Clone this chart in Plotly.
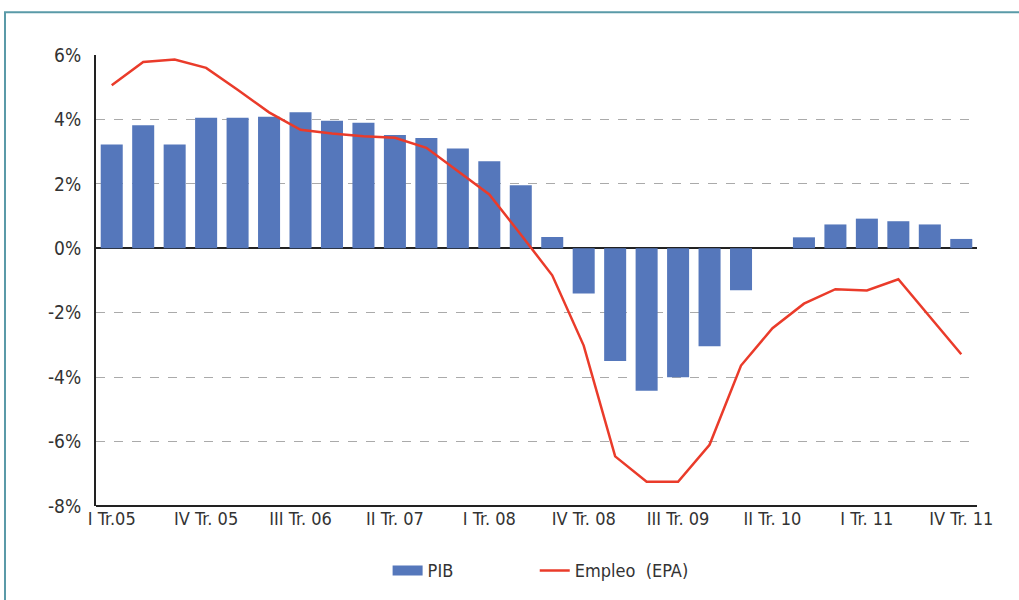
import plotly.graph_objects as go

quarters = ["I Tr.05", "II Tr.05", "III Tr.05", "IV Tr. 05",
            "I Tr. 06", "II Tr. 06", "III Tr. 06", "IV Tr. 06",
            "I Tr. 07", "II Tr. 07", "III Tr. 07", "IV Tr. 07",
            "I Tr. 08", "II Tr. 08", "III Tr. 08", "IV Tr. 08",
            "I Tr. 09", "II Tr. 09", "III Tr. 09", "IV Tr. 09",
            "I Tr. 10", "II Tr. 10", "III Tr. 10", "IV Tr. 10",
            "I Tr. 11", "II Tr. 11", "III Tr. 11", "IV Tr. 11"]

pib = [3.22, 3.82, 3.22, 4.05, 4.05, 4.08, 4.22, 3.96, 3.9, 3.52, 3.42, 3.1,
       2.7, 1.96, 0.35, -1.4, -3.5, -4.42, -4.0, -3.04, -1.3, 0.0, 0.34, 0.74,
       0.92, 0.84, 0.74, 0.29]

empleo = [5.06, 5.78, 5.86, 5.6, 4.92, 4.22, 3.68, 3.56, 3.48, 3.43, 3.12, 2.39,
          1.67, 0.43, -0.84, -3.02, -6.46, -7.25, -7.25, -6.1, -3.64, -2.48, -1.72,
          -1.27, -1.31, -0.96, -2.12, -3.29]

tick_idx = list(range(0, 28, 3))
tick_text = [quarters[i] for i in tick_idx]
y_ticks = [6, 4, 2, 0, -2, -4, -6, -8]
y_text = [f"{v}%" for v in y_ticks]

FONT = "DejaVu Sans Condensed, Roboto, sans-serif"
BLUE = "#5577bb"
RED = "#ea3b2a"

x = list(range(len(quarters)))

fig = go.Figure()
fig.add_trace(go.Bar(x=x, y=pib, name="PIB", showlegend=False,
                     marker=dict(color=BLUE, line=dict(width=0))))
# legend swatch for the bars (wide rectangle like the original)
fig.add_trace(go.Scatter(x=[None], y=[None], name="PIB", mode="lines",
                         line=dict(color=BLUE, width=12), legend="legend"))
fig.add_trace(go.Scatter(x=x, y=empleo, name="Empleo  (EPA)", mode="lines",
                         line=dict(color=RED, width=2.5), legend="legend2"))

legend_common = dict(orientation="h", xanchor="left", y=-0.1, yanchor="top",
                     font=dict(size=18), bgcolor="rgba(0,0,0,0)")

fig.update_layout(
    width=1019, height=600,
    margin=dict(l=96, r=42, t=55, b=93),
    paper_bgcolor="white", plot_bgcolor="white",
    bargap=0.3,
    font=dict(family=FONT, size=19, color="#333333"),
    showlegend=True,
    legend=dict(x=0.331, **legend_common),
    legend2=dict(x=0.498, **legend_common),
    xaxis=dict(range=[-0.5, 27.5], tickmode="array", tickvals=tick_idx, ticktext=tick_text,
               showgrid=False, zeroline=False, showline=False, ticks="",
               tickfont=dict(size=18), fixedrange=True),
    yaxis=dict(range=[-8, 6], tickmode="array", tickvals=y_ticks, ticktext=y_text,
               showgrid=True, gridcolor="#aaaaaa", griddash="dash", gridwidth=1,
               zeroline=True, zerolinecolor="#222222", zerolinewidth=2,
               showline=True, linecolor="#222222", linewidth=2, ticks="",
               ticklabelstandoff=9, fixedrange=True),
    shapes=[
        dict(type="line", xref="paper", yref="paper", x0=0, x1=1, y0=0, y1=0,
             line=dict(color="#222222", width=2)),
        dict(type="rect", xref="paper", yref="paper", x0=-0.1033, x1=1.2, y0=-0.4, y1=1.095,
             line=dict(color="#5a9aa8", width=2), layer="below"),
    ],
)

fig.write_html("out.html", config={"displayModeBar": False},
               post_script="document.body.style.margin='0';")
